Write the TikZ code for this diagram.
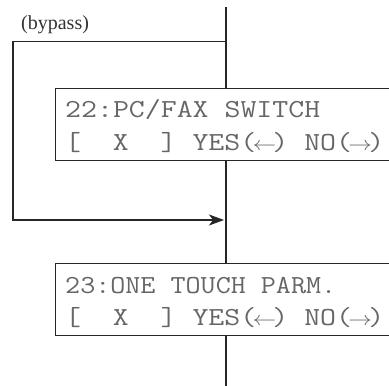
\documentclass[tikz,border=0pt]{standalone}
\usepackage{fontspec}
\setmainfont{Liberation Serif}
\usetikzlibrary{arrows.meta}
\newcommand{\lcdtext}[2]{\resizebox{#1}{\height}{\ttfamily\fontsize{26}{26}\selectfont #2}}
\newcommand{\lar}{\makebox[0.525em]{\scalebox{0.8}{$\leftarrow$}}}
\newcommand{\rar}{\makebox[0.525em]{\scalebox{0.8}{$\rightarrow$}}}
\begin{document}
\begin{tikzpicture}[x=1pt,y=1pt,
  line/.style={line width=1.2pt,draw=black!85},
  box/.style={line width=1.3pt,draw=black!85,rectangle,inner sep=0pt,anchor=north west,minimum width=380pt},
  lcd/.style={text=black!60,inner sep=0pt,anchor=base west},
  lbl/.style={font=\fontsize{20}{20}\selectfont,text=black!80,inner sep=0pt,anchor=base west}]
\useasboundingbox (0,0) rectangle (389,-386);
\clip (0,0) rectangle (389,-386);
% boxes
\node[box,minimum height=72pt] (b1) at (54.5,-88) {};
\node[box,minimum height=72pt] (b2) at (54.5,-263) {};
% texts
\node[lcd] (t1a) at (65,-117) {\lcdtext{255pt}{22:PC/FAX SWITCH}};
\node[lcd] (t1b) at (65,-150) {\lcdtext{319pt}{[\ \ X\ \ ] YES(\lar) NO(\rar)}};
\node[lcd] (t2a) at (65,-293) {\lcdtext{271pt}{23:ONE TOUCH PARM.}};
\node[lcd] (t2b) at (65,-325) {\lcdtext{319pt}{[\ \ X\ \ ] YES(\lar) NO(\rar)}};
\node[lbl] (bp) at (21,-29) {(bypass)};
% coordinates
\coordinate (top) at (226,-7);
\coordinate (split) at (226,-41.5);
\coordinate (bl) at (13,-41.5);
\coordinate (bl2) at (13,-220);
\coordinate (join) at (226,-220);
\coordinate (bottom) at (226,-386);
% connectors
\draw[line] (top) -- (b1.north -| top);
\draw[line] (b1.south -| top) -- (b2.north -| top);
\draw[line] (b2.south -| top) -- (bottom);
\draw[line,-{Stealth[length=15pt,width=11pt,inset=4pt]}] (split) -- (bl) -- (bl2) -- ([xshift=-2pt]join);
\end{tikzpicture}
\end{document}
